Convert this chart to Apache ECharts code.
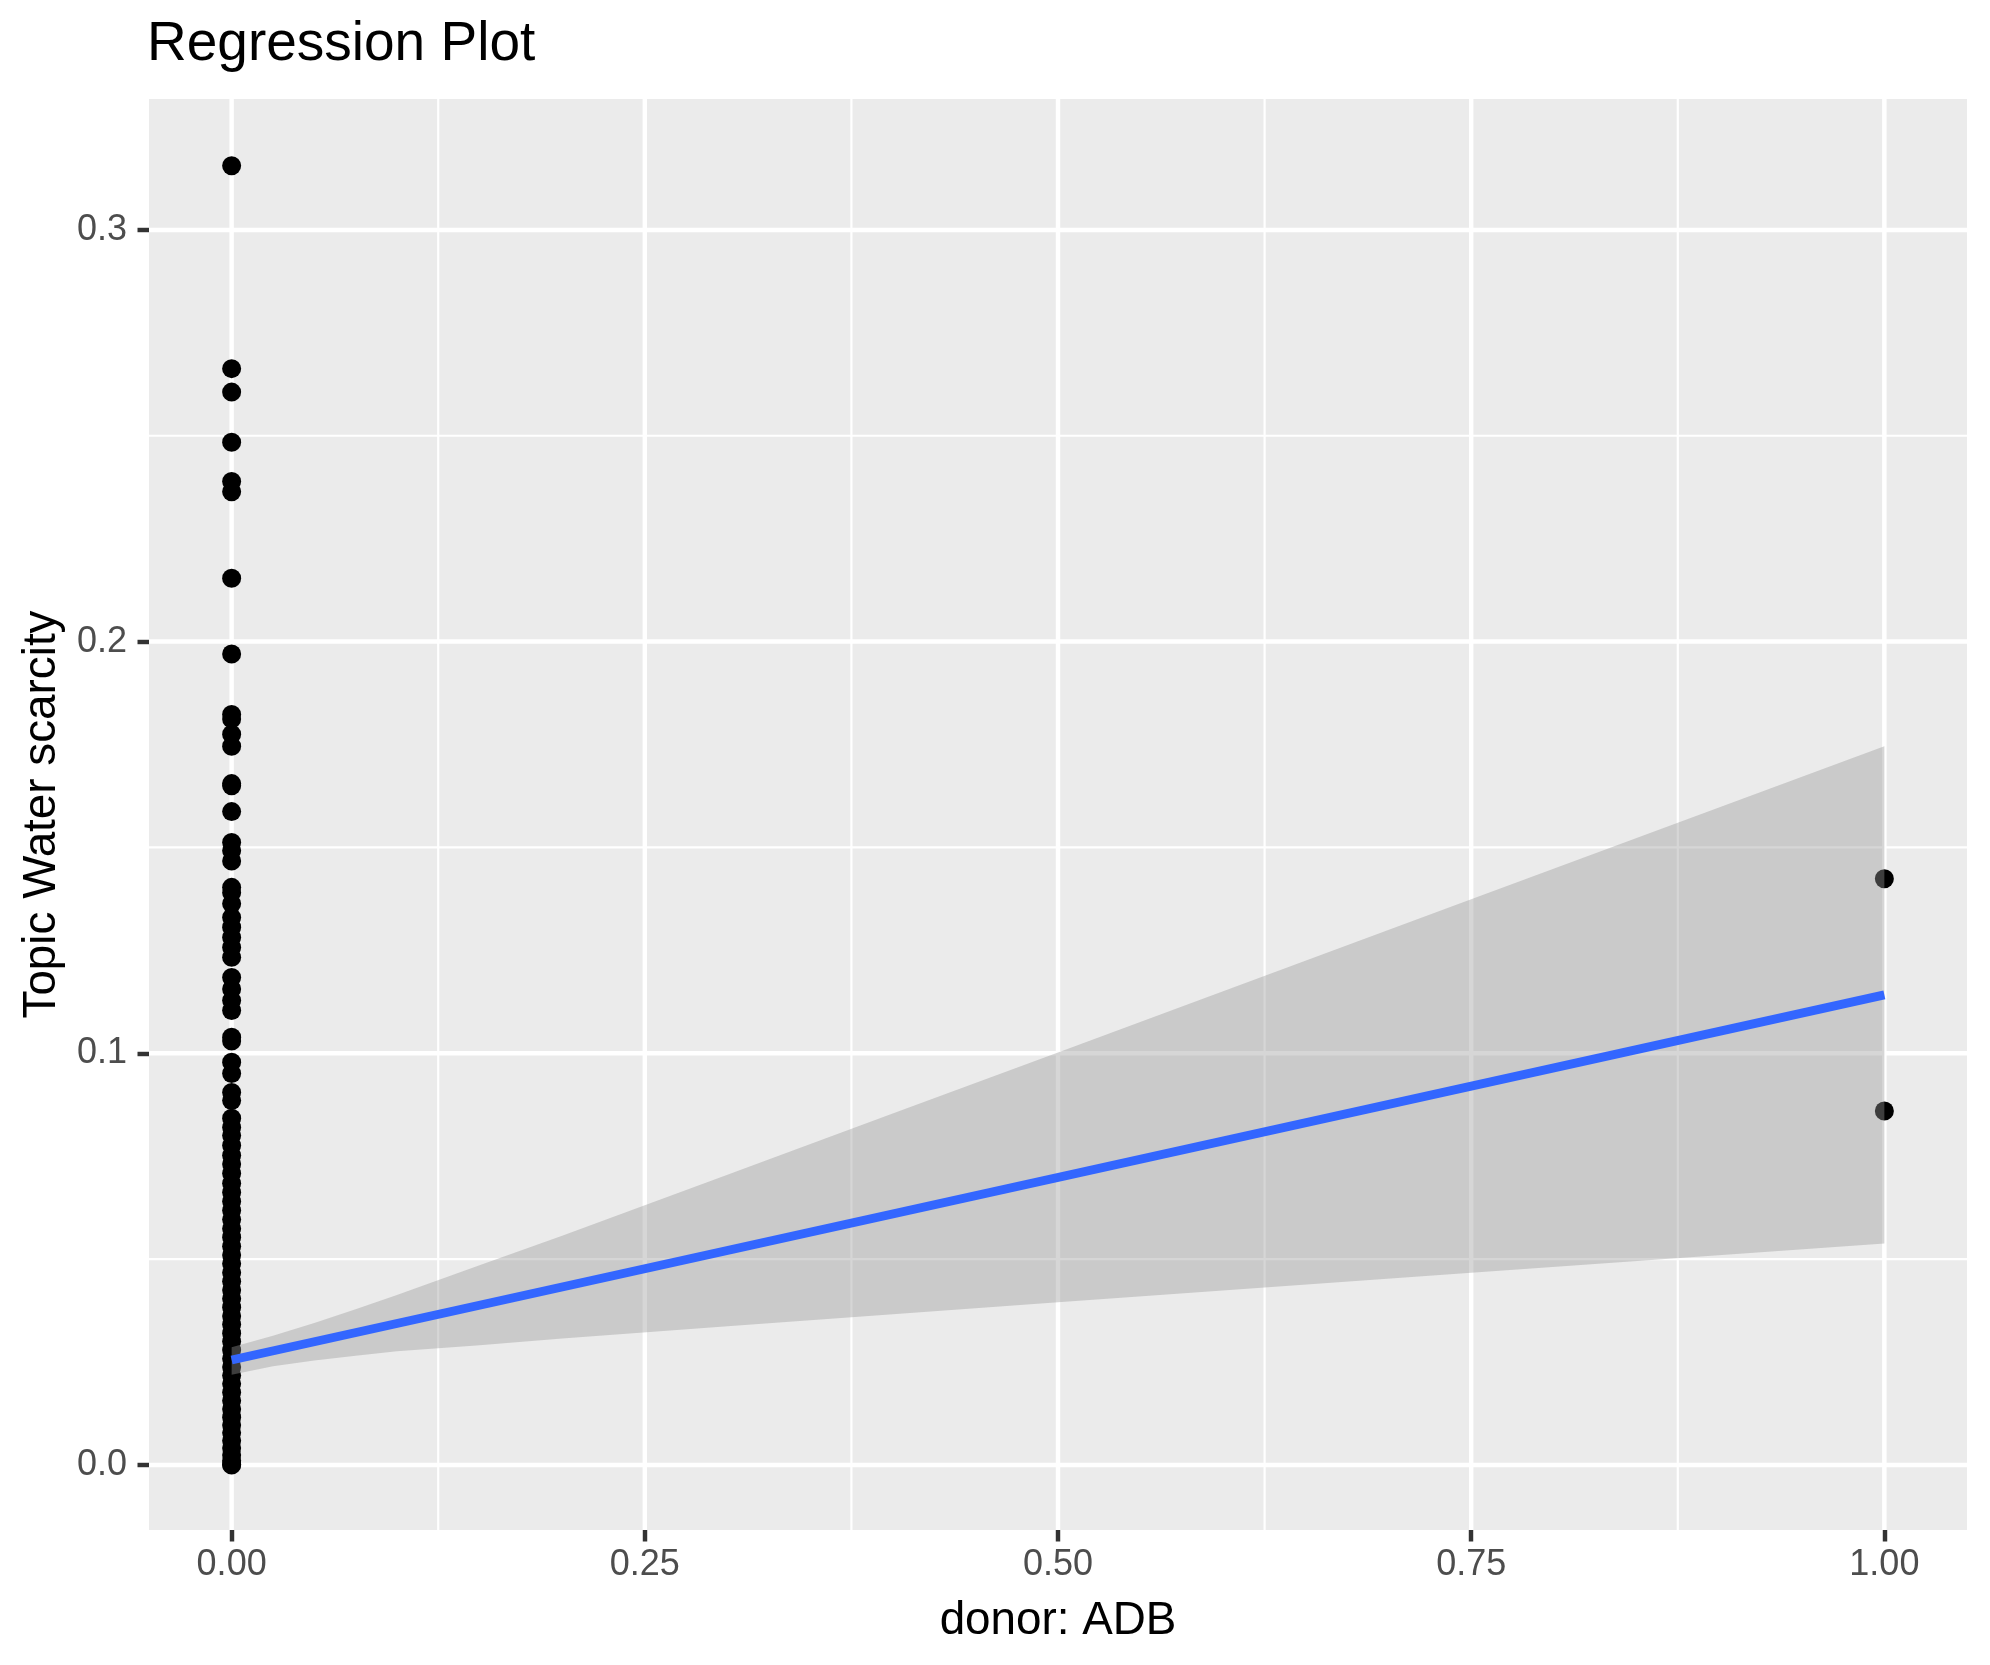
<!DOCTYPE html>
<html><head><meta charset="utf-8">
<script src="https://cdn.jsdelivr.net/npm/echarts@6/dist/echarts.min.js"></script>
<style>html,body{margin:0;padding:0;background:#fff;} #chart{width:1990px;height:1665px;}</style>
</head><body><div id="chart"></div>
<script>
// ---- text ----
const titleText = 'Regression Plot';
const xAxisTitle = 'donor: ADB';
const yAxisTitle = 'Topic Water scarcity';

// ---- ticks ----
const xTickValues = [0, 0.25, 0.5, 0.75, 1];
const xTickLabels = ['0.00', '0.25', '0.50', '0.75', '1.00'];
const yTickValues = [0, 0.1, 0.2, 0.3];
const yTickLabels = ['0.0', '0.1', '0.2', '0.3'];
const xMinorGrid = [0.125, 0.375, 0.625, 0.875];
const yMinorGrid = [0.05, 0.15, 0.25];
const xRange = [-0.05, 1.05];
const yRange = [-0.0158, 0.3318];

// ---- points (donor: ADB = 0) ----
const donor0Values = [
  0.3156, 0.2663, 0.2606, 0.2484, 0.2389, 0.2364, 0.2154, 0.1970,
  0.1823, 0.1812, 0.1775, 0.1746, 0.1655, 0.1650, 0.1587, 0.1512,
  0.1492, 0.1467, 0.1403, 0.1390, 0.1363, 0.1330, 0.1306, 0.1281,
  0.1257, 0.1233, 0.1184, 0.1156, 0.1128, 0.1104, 0.1039, 0.1030,
  0.0978, 0.0951, 0.0905, 0.0885, 0.0842, 0.0820,
  0.0800, 0.0776, 0.0752, 0.0731, 0.0708, 0.0684, 0.0662, 0.0640,
  0.0618, 0.0596, 0.0574, 0.0553, 0.0531, 0.0510, 0.0489, 0.0467,
  0.0446, 0.0425, 0.0404, 0.0383, 0.0362, 0.0341, 0.0320, 0.0300,
  0.0279, 0.0258, 0.0238, 0.0217, 0.0197, 0.0176, 0.0156, 0.0136,
  0.0116, 0.0097, 0.0078, 0.0059, 0.0041, 0.0024, 0.0010, 0.0002, 0.0000
];
// ---- points (donor: ADB = 1) ----
const donor1Values = [0.1424, 0.0860];

// ---- fitted line and confidence band ----
const fitX = [0, 1];
const fitY = [0.0255, 0.1142];
const bandX     = [0,      0.025,  0.05,   0.075,  0.1,    0.15,   0.2,    0.3,    0.4,    0.5,    0.75,   1];
const bandUpper = [0.0286, 0.0314, 0.0345, 0.0378, 0.0413, 0.0485, 0.0557, 0.0705, 0.0854, 0.1002, 0.1374, 0.1746];
const bandLower = [0.0219, 0.0240, 0.0254, 0.0265, 0.0276, 0.0291, 0.0307, 0.0337, 0.0366, 0.0395, 0.0467, 0.0538];

const FONT = 'Liberation Sans, Arial, Helvetica, sans-serif';

function lookup(vals, labels, v) {
  for (let i = 0; i < vals.length; i++) if (Math.abs(vals[i] - v) < 1e-9) return labels[i];
  return '';
}

// grid line items: [value, direction(0 vertical,1 horizontal), major flag]
const gridItems = []
  .concat(xMinorGrid.map(v => [v, 0, 0]))
  .concat(yMinorGrid.map(v => [v, 1, 0]))
  .concat(xTickValues.map(v => [v, 0, 1]))
  .concat(yTickValues.map(v => [v, 1, 1]));

const chart = echarts.init(document.getElementById('chart'), null, {renderer: 'canvas'});
chart.setOption({
  animation: false,
  backgroundColor: '#FFFFFF',
  title: {
    text: titleText, left: 147, top: 17, padding: 0,
    textStyle: {fontSize: 55, fontWeight: 'normal', color: '#000000', fontFamily: FONT}
  },
  grid: {
    left: 149, right: 23, top: 99, bottom: 135,
    show: true, backgroundColor: '#EBEBEB', borderWidth: 0,
    containLabel: false, outerBoundsMode: 'none'
  },
  xAxis: {
    type: 'value', min: xRange[0], max: xRange[1],
    axisLine: {show: false, onZero: false}, splitLine: {show: false}, minorSplitLine: {show: false},
    axisTick: {show: true, inside: false, customValues: xTickValues, length: 11.5, lineStyle: {color: '#333333', width: 4.45}},
    axisLabel: {
      customValues: xTickValues, formatter: v => lookup(xTickValues, xTickLabels, v),
      color: '#4D4D4D', fontSize: 36, margin: 17, fontFamily: FONT
    },
    name: xAxisTitle, nameLocation: 'middle', nameGap: 68,
    nameTextStyle: {fontSize: 45.8, color: '#000000', fontFamily: FONT}
  },
  yAxis: {
    type: 'value', min: yRange[0], max: yRange[1],
    axisLine: {show: false, onZero: false}, splitLine: {show: false}, minorSplitLine: {show: false},
    axisTick: {show: true, inside: false, customValues: yTickValues, length: 11.5, lineStyle: {color: '#333333', width: 4.45}},
    axisLabel: {
      customValues: yTickValues, formatter: v => lookup(yTickValues, yTickLabels, v),
      color: '#4D4D4D', fontSize: 36, margin: 22, fontFamily: FONT
    },
    name: yAxisTitle, nameLocation: 'middle', nameGap: 84,
    nameTextStyle: {fontSize: 45.8, color: '#000000', fontFamily: FONT}
  },
  series: [
    {
      type: 'custom', name: 'grid', z: 1, silent: true,
      data: gridItems,
      encode: {x: 0, y: 0},
      renderItem: function (params, api) {
        const v = api.value(0), dir = api.value(1), major = api.value(2);
        const cs = params.coordSys;
        const w = major ? 4.45 : 2.2;
        if (dir === 0) {
          const x = api.coord([v, yRange[0]])[0];
          return {type: 'line', shape: {x1: x, y1: cs.y, x2: x, y2: cs.y + cs.height},
                  style: {stroke: '#FFFFFF', lineWidth: w}};
        }
        const y = api.coord([xRange[0], v])[1];
        return {type: 'line', shape: {x1: cs.x, y1: y, x2: cs.x + cs.width, y2: y},
                style: {stroke: '#FFFFFF', lineWidth: w}};
      }
    },
    {
      type: 'scatter', name: 'points', z: 2, silent: true,
      symbol: 'circle', symbolSize: 19,
      itemStyle: {color: '#000000', borderWidth: 0, opacity: 1},
      data: donor0Values.map(v => [0, v]).concat(donor1Values.map(v => [1, v]))
    },
    {
      type: 'custom', name: 'band', z: 3, silent: true,
      data: [[0, 0]],
      renderItem: function (params, api) {
        const pts = [];
        for (let i = 0; i < bandX.length; i++) pts.push(api.coord([bandX[i], bandUpper[i]]));
        for (let i = bandX.length - 1; i >= 0; i--) pts.push(api.coord([bandX[i], bandLower[i]]));
        return {type: 'polygon', shape: {points: pts}, style: {fill: 'rgba(153,153,153,0.4)'}};
      }
    },
    {
      type: 'line', name: 'fit', z: 4, silent: true,
      showSymbol: false, symbol: 'none',
      lineStyle: {color: '#3366FF', width: 8.9, cap: 'butt'},
      data: fitX.map((x, i) => [x, fitY[i]])
    }
  ]
});
</script>
</body></html>
